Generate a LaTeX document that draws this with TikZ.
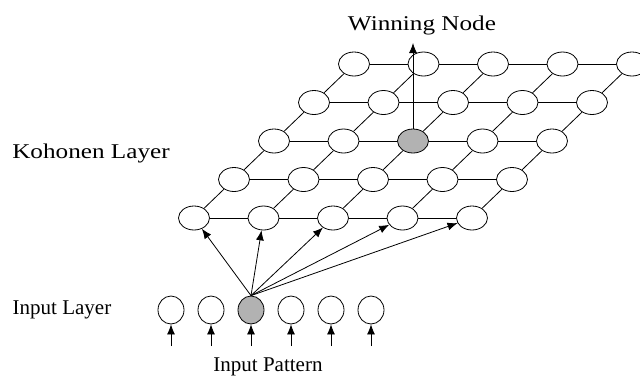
\documentclass[tikz,border=0pt]{standalone}
\usepackage{fontspec}
\setmainfont{Liberation Serif}
\usepackage{graphicx}
\usetikzlibrary{shapes.geometric,arrows.meta}

\tikzset{
	unit/.style={draw, ellipse, line width=0.8pt, minimum width=31pt, minimum height=24pt, inner sep=0pt},
	inunit/.style={draw, ellipse, line width=0.8pt, minimum width=26pt, minimum height=28pt, inner sep=0pt},
	lbl/.style={font=\fontsize{21}{24}\selectfont, inner sep=0pt},
}

\begin{document}
\begin{tikzpicture}[x=1pt,y=-1pt,line width=0.8pt,>={Latex[length=10pt,width=8pt]}]
	\useasboundingbox (0,0) rectangle (640,376);
	
	% Kohonen layer (winner k22 in gray)
	\foreach \i in {0,...,4}
	  \foreach \j in {0,...,4} {
	    \ifnum\i\j=22 \def\cellfill{black!30}\else\def\cellfill{white}\fi
	    \node[unit,fill=\cellfill] (k\i\j) at ({194+69.5*\i+40*\j},{218-38.5*\j}) {};
	  }
	% rows
	\foreach \j in {0,...,4}
	  \foreach \i in {1,...,4} {
	    \pgfmathtruncatemacro\p{\i-1}
	    \draw (k\p\j) -- (k\i\j);
	  }
	% diagonals
	\foreach \i in {0,...,4}
	  \foreach \j in {1,...,4} {
	    \pgfmathtruncatemacro\p{\j-1}
	    \draw (k\i\p) -- (k\i\j);
	  }
	
	% Winning node output
	\node[lbl] (winlbl) at (422,25) {\scalebox{1.2}[1]{Winning Node}};
	\coordinate (wintop) at (k22.north |- 0,43);
	\draw[->] (k22.north) -- (wintop);
	
	% Input layer (in2 in gray)
	\foreach \k in {0,...,5} {
	    \ifnum\k=2 \def\cellfill{black!30}\else\def\cellfill{white}\fi
	    \node[inunit,fill=\cellfill] (in\k) at ({171+40*\k},310) {};
	    \coordinate (src\k) at ({171+40*\k},346);
	    \draw[->] (src\k) -- (in\k);
	}
	\foreach \i in {0,...,4}
	    \draw[->] (in2.north) -- (k\i0);
	
	% Layer names
	\node[lbl] (kohlbl) at (91,153) {\scalebox{1.2}[1]{Kohonen Layer}};
	\node[lbl] (inlbl) at (62,310) {Input Layer};
	\node[lbl,anchor=base] (patlbl) at (268,371) {Input Pattern};
	
\end{tikzpicture}
\end{document}
